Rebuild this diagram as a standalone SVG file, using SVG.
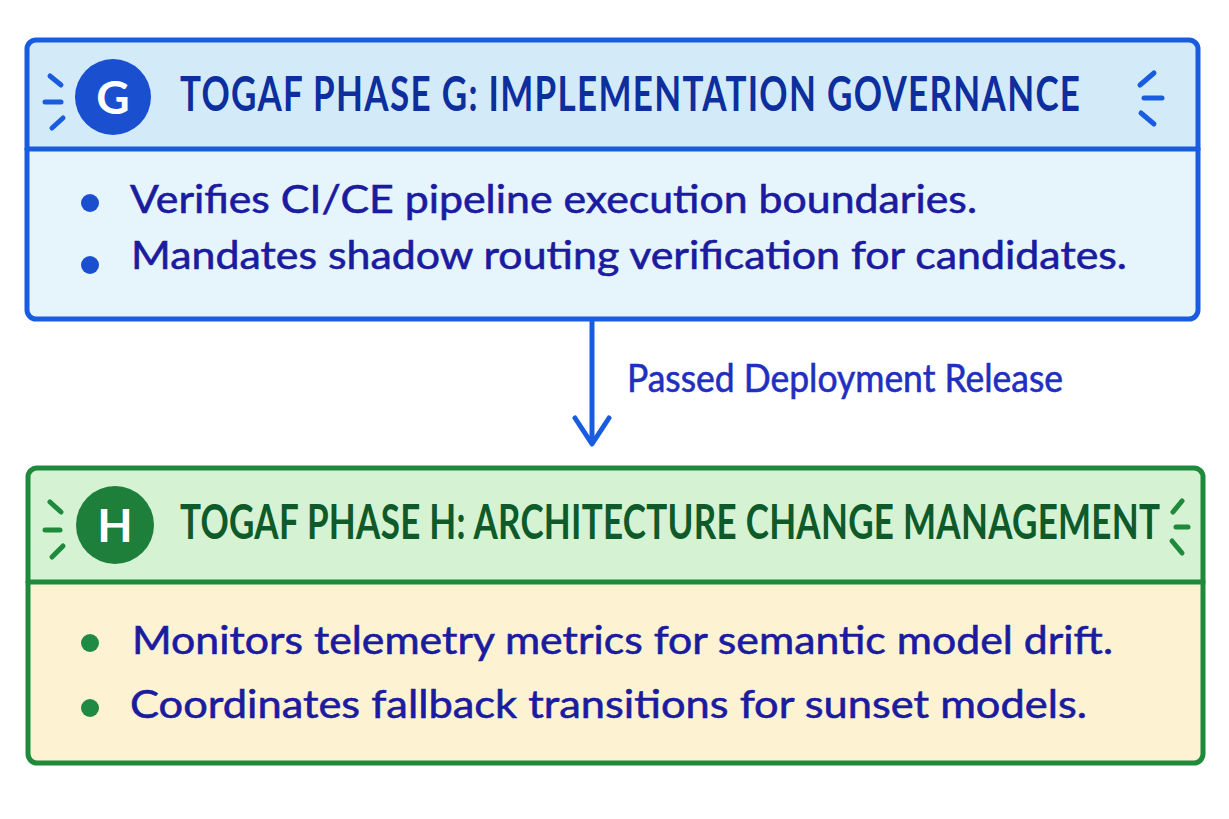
<svg xmlns="http://www.w3.org/2000/svg" width="1229" height="819" viewBox="0 0 1229 819">
<defs>
<style>
.title{font-family:Lato,"Noto Sans","Liberation Sans",sans-serif;font-weight:bold;font-size:35px;}
.body{font-family:Lato,"Noto Sans","Liberation Sans",sans-serif;font-size:39px;fill:#1b1ba0;stroke:#1b1ba0;stroke-width:0.6px;}
.lbl{font-family:Lato,"Noto Sans","Liberation Sans",sans-serif;font-size:38px;fill:#1f2fc0;stroke:#1f2fc0;stroke-width:0.6px;}
.badge{font-family:Lato,"Noto Sans","Liberation Sans",sans-serif;font-weight:bold;font-size:46px;fill:#ffffff;text-anchor:middle;}
.bline{stroke:#1a5ce0;stroke-width:5;fill:none;stroke-linecap:round;stroke-linejoin:round;}
.gline{stroke:#1f8a3c;stroke-width:5;fill:none;stroke-linecap:round;stroke-linejoin:round;}
</style>
</defs>
<rect width="1229" height="819" fill="#ffffff"/>

<g id="phase-g">
<rect x="27" y="40" width="1171" height="279" rx="9" fill="#e6f4fc"/>
<path d="M36 40 H1189 Q1198 40 1198 49 V149 H27 V49 Q27 40 36 40 Z" fill="#d3ebf9"/>
<rect x="27" y="40" width="1171" height="279" rx="9" class="bline"/>
<line x1="27" y1="149" x2="1198" y2="149" class="bline"/>
<line x1="50" y1="76" x2="61" y2="85" class="bline"/>
<line x1="45" y1="102" x2="61" y2="102" class="bline"/>
<line x1="52" y1="128" x2="63" y2="118" class="bline"/>
<line x1="1140" y1="85" x2="1154" y2="73" class="bline"/>
<line x1="1144" y1="98" x2="1162" y2="98" class="bline"/>
<line x1="1141" y1="113" x2="1154" y2="124" class="bline"/>
<circle cx="113" cy="97" r="38" fill="#1a4fd0"/>
<text x="113" y="114" class="badge">G</text>
<text transform="translate(180,111) scale(1,1.35)" x="0" y="0" class="title" fill="#0d2f9e" textLength="900" lengthAdjust="spacing">TOGAF PHASE G: IMPLEMENTATION GOVERNANCE</text>
<circle cx="90" cy="203" r="9" fill="#1a4fd0"/>
<text x="130" y="213" class="body" textLength="847" lengthAdjust="spacingAndGlyphs">Verifies CI/CE pipeline execution boundaries.</text>
<circle cx="90" cy="265" r="9" fill="#1a4fd0"/>
<text x="131" y="269" class="body" textLength="996" lengthAdjust="spacingAndGlyphs">Mandates shadow routing verification for candidates.</text>
</g>

<g id="connectors">
<line x1="592" y1="322" x2="592" y2="442" class="bline"/>
<polyline points="575,418 592,444 609,418" class="bline"/>
<text x="627" y="392" class="lbl" textLength="436" lengthAdjust="spacingAndGlyphs">Passed Deployment Release</text>
</g>

<g id="phase-h">
<rect x="28" y="468" width="1175" height="295" rx="9" fill="#fdf3d3"/>
<path d="M37 468 H1194 Q1203 468 1203 477 V582 H28 V477 Q28 468 37 468 Z" fill="#d5f3d3"/>
<rect x="28" y="468" width="1175" height="295" rx="9" class="gline"/>
<line x1="28" y1="582" x2="1203" y2="582" class="gline"/>
<line x1="50" y1="502" x2="61" y2="512" class="gline"/>
<line x1="45" y1="530" x2="60" y2="530" class="gline"/>
<line x1="52" y1="557" x2="63" y2="546" class="gline"/>
<line x1="1182" y1="501" x2="1173" y2="512" class="gline"/>
<line x1="1176" y1="527" x2="1188" y2="527" class="gline"/>
<line x1="1172" y1="541" x2="1182" y2="553" class="gline"/>
<circle cx="115" cy="525" r="39" fill="#1e7f3a"/>
<text x="115" y="542" class="badge">H</text>
<text transform="translate(180,539) scale(1,1.35)" x="0" y="0" class="title" fill="#0f5a2a" textLength="980" lengthAdjust="spacing">TOGAF PHASE H: ARCHITECTURE CHANGE MANAGEMENT</text>
<circle cx="90" cy="643" r="9" fill="#1e8a44"/>
<text x="132" y="654" class="body" textLength="981" lengthAdjust="spacingAndGlyphs">Monitors telemetry metrics for semantic model drift.</text>
<circle cx="90" cy="708" r="9" fill="#1e8a44"/>
<text x="130" y="718" class="body" textLength="957" lengthAdjust="spacingAndGlyphs">Coordinates fallback transitions for sunset models.</text>
</g>
</svg>
